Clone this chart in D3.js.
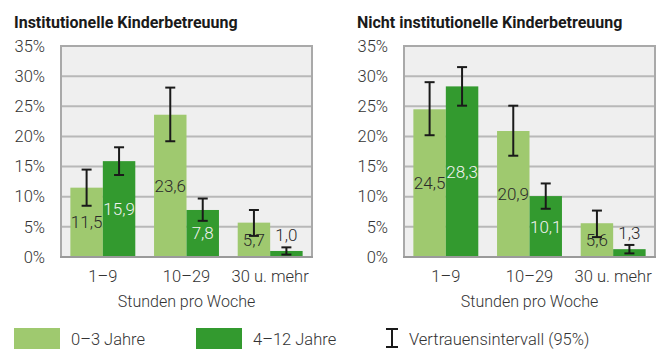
<!DOCTYPE html>
<html>
<head>
<meta charset="utf-8">
<script src="https://cdn.jsdelivr.net/npm/d3@7"></script>
<style>
  html, body { margin: 0; padding: 0; background: #fff; }
  svg { display: block; font-family: Roboto, "Noto Sans", sans-serif; }
</style>
</head>
<body>
<svg id="chart" width="672" height="350"></svg>
<script>
// Hours of childcare per week, share of children by age group (%)
const categories = ["1\u20139", "10\u201329", "30 u. mehr"];
const series = ["0\u20133 Jahre", "4\u201312 Jahre"];
const yTicks = [0, 5, 10, 15, 20, 25, 30, 35];

// Institutional childcare
const instYoung = [11.5, 23.6, 5.7];
const instOld = [15.9, 7.8, 1.0];
const instYoungLow = [8.5, 19.2, 3.5];
const instYoungHigh = [14.5, 28.1, 7.8];
const instOldLow = [13.6, 6.0, 0.4];
const instOldHigh = [18.2, 9.7, 1.6];

// Non-institutional childcare
const nonYoung = [24.5, 20.9, 5.6];
const nonOld = [28.3, 10.1, 1.3];
const nonYoungLow = [20.2, 16.8, 3.3];
const nonYoungHigh = [29.0, 25.1, 7.7];
const nonOldLow = [25.1, 8.0, 0.6];
const nonOldHigh = [31.5, 12.2, 2.0];

const panels = [
  {
    title: "Institutionelle Kinderbetreuung",
    values: [instYoung, instOld],
    low: [instYoungLow, instOldLow],
    high: [instYoungHigh, instOldHigh],
    left: 61
  },
  {
    title: "Nicht institutionelle Kinderbetreuung",
    values: [nonYoung, nonOld],
    low: [nonYoungLow, nonOldLow],
    high: [nonYoungHigh, nonOldHigh],
    left: 404
  }
];

const colors = ["#9fc96f", "#339a2f"];
const labelColors = ["#2a2a2a", "#f2f2f2"];
const fmt = v => d3.format(".1f")(v).replace(".", ",");

const svg = d3.select("#chart");
const plotW = 251, plotTop = 46, plotBottom = 257;

const y = d3.scaleLinear().domain([0, 35]).range([plotBottom, plotTop]);

panels.forEach(p => {
  const g = svg.append("g").attr("transform", `translate(${p.left},0)`);

  const x0 = d3.scaleBand().domain(categories).range([0, plotW]).padding(0);
  const x1 = d3.scaleBand().domain(series.map((_, i) => i))
    .range([x0.step() * 0.112, x0.step() * 0.888]).padding(0);

  // title
  svg.append("text")
    .attr("x", p.left - 47).attr("y", 28)
    .attr("font-size", 16).attr("font-weight", 700).attr("fill", "#1a1a1a")
    .text(p.title);

  // plot background
  g.append("rect").attr("x", 0).attr("y", plotTop).attr("width", plotW).attr("height", plotBottom - plotTop)
    .attr("fill", "#efefef");

  // grid lines
  g.selectAll("line.grid").data(yTicks.filter(t => t > 0)).join("line")
    .attr("class", "grid")
    .attr("x1", 0).attr("x2", plotW)
    .attr("y1", d => y(d)).attr("y2", d => y(d))
    .attr("stroke", "#b8b8b8").attr("stroke-width", 2);

  // side frame
  g.append("path")
    .attr("d", `M0,${plotBottom}V${plotTop}H${plotW}V${plotBottom}`)
    .attr("fill", "none").attr("stroke", "#a9a9a9").attr("stroke-width", 2);

  // y axis labels
  const yAxis = d3.axisLeft(y).tickValues(yTicks).tickFormat(d => d + "%").tickSize(0).tickPadding(16);
  const ya = g.append("g").call(yAxis);
  ya.select(".domain").remove();
  ya.selectAll("text").attr("font-size", 16.5).attr("font-weight", 300).attr("fill", "#333")
    .attr("font-family", "Roboto, sans-serif");

  // bars
  const groups = g.selectAll("g.cat").data(categories).join("g")
    .attr("class", "cat")
    .attr("transform", d => `translate(${x0(d)},0)`);

  series.forEach((s, si) => {
    groups.append("rect")
      .attr("x", x1(si))
      .attr("width", x1.bandwidth())
      .attr("y", (d, ci) => y(p.values[si][ci]))
      .attr("height", (d, ci) => plotBottom - y(p.values[si][ci]))
      .attr("fill", colors[si]);
  });

  // x axis baseline
  g.append("line").attr("x1", -1).attr("x2", plotW + 1)
    .attr("y1", plotBottom).attr("y2", plotBottom)
    .attr("stroke", "#9a9a9a").attr("stroke-width", 2);

  // value labels: centred in the bar, or above the interval for very short bars
  series.forEach((s, si) => {
    groups.append("text")
      .attr("x", x1(si) + x1.bandwidth() / 2)
      .attr("y", (d, ci) => {
        const v = p.values[si][ci];
        if (v < 3) return y(p.high[si][ci]) - 6;
        return (y(v) + plotBottom) / 2 + 6;
      })
      .attr("text-anchor", "middle")
      .attr("font-size", 17).attr("font-weight", 300)
      .attr("fill", (d, ci) => p.values[si][ci] < 3 ? labelColors[0] : labelColors[si])
      .text((d, ci) => fmt(p.values[si][ci]));
  });

  // error bars
  series.forEach((s, si) => {
    const cx = x1(si) + x1.bandwidth() / 2;
    const eb = groups.append("g").attr("stroke", "#1a1a1a").attr("stroke-width", 2);
    eb.append("line").attr("x1", cx).attr("x2", cx)
      .attr("y1", (d, ci) => y(p.low[si][ci])).attr("y2", (d, ci) => y(p.high[si][ci]));
    eb.append("line").attr("x1", cx - 5).attr("x2", cx + 5)
      .attr("y1", (d, ci) => y(p.low[si][ci])).attr("y2", (d, ci) => y(p.low[si][ci]));
    eb.append("line").attr("x1", cx - 5).attr("x2", cx + 5)
      .attr("y1", (d, ci) => y(p.high[si][ci])).attr("y2", (d, ci) => y(p.high[si][ci]));
  });

  // category labels
  const xa = g.append("g").attr("transform", `translate(0,${plotBottom})`)
    .call(d3.axisBottom(x0).tickSize(0).tickPadding(13));
  xa.select(".domain").remove();
  xa.selectAll("text").attr("font-size", 16.5).attr("font-weight", 300).attr("fill", "#333")
    .attr("font-family", "Roboto, sans-serif");

  // axis title
  g.append("text").attr("x", plotW / 2).attr("y", 307)
    .attr("text-anchor", "middle").attr("font-size", 16).attr("font-weight", 300).attr("fill", "#333")
    .text("Stunden pro Woche");
});

// legend
const legend = svg.append("g");
const legendX = [14, 196];
series.forEach((s, i) => {
  legend.append("rect").attr("x", legendX[i]).attr("y", 328).attr("width", 46).attr("height", 21)
    .attr("fill", colors[i]);
  legend.append("text").attr("x", legendX[i] + 57).attr("y", 345)
    .attr("font-size", 16.5).attr("font-weight", 300).attr("fill", "#333").text(s);
});
const ci = legend.append("g").attr("stroke", "#1a1a1a").attr("stroke-width", 2);
ci.append("line").attr("x1", 392).attr("x2", 392).attr("y1", 329).attr("y2", 347);
ci.append("line").attr("x1", 386).attr("x2", 398).attr("y1", 329).attr("y2", 329);
ci.append("line").attr("x1", 386).attr("x2", 398).attr("y1", 347).attr("y2", 347);
legend.append("text").attr("x", 409).attr("y", 345)
  .attr("font-size", 16.5).attr("font-weight", 300).attr("fill", "#333").text("Vertrauensintervall (95%)");
</script>
</body>
</html>
